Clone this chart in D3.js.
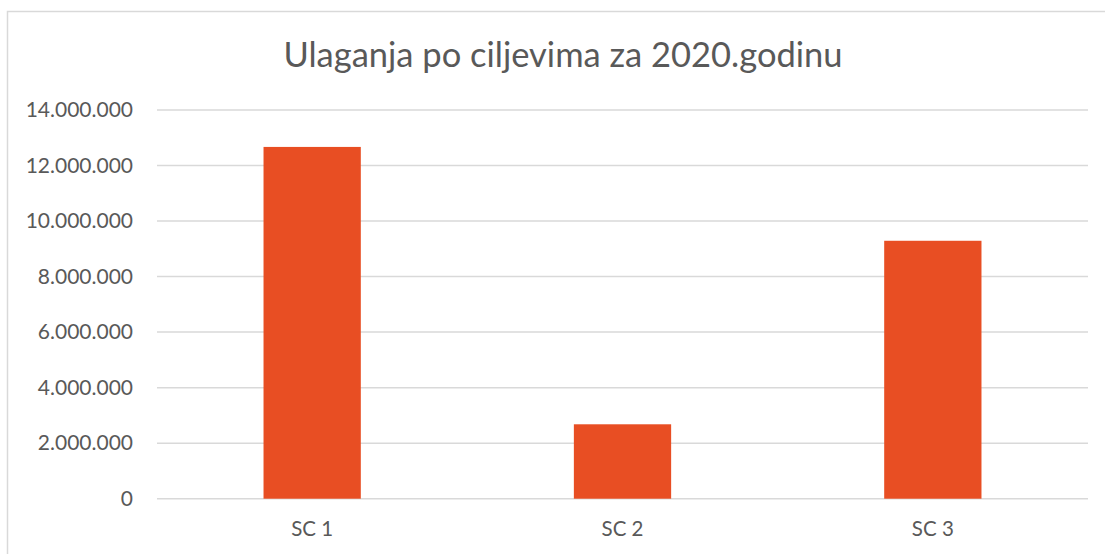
<!DOCTYPE html>
<html>
<head>
<meta charset="utf-8">
<script src="https://cdn.jsdelivr.net/npm/d3@7"></script>
<style>
  body { margin: 0; background: #fff; }
  text { font-family: Lato, "Open Sans", sans-serif; fill: #595959; }
</style>
</head>
<body>
<div id="chart"></div>
<script>
// data
const title = "Ulaganja po ciljevima za 2020.godinu";
const categories = ["SC 1", "SC 2", "SC 3"];
const values = [12670000, 2680000, 9290000];
const yTicks = [0, 2000000, 4000000, 6000000, 8000000, 10000000, 12000000, 14000000];

const width = 1105, height = 554;
const margin = {top: 110, right: 17, bottom: 55.3, left: 157};
const plotW = width - margin.left - margin.right;
const plotH = height - margin.top - margin.bottom;

const svg = d3.select("#chart").append("svg")
    .attr("width", width)
    .attr("height", height);

// chart border (only top and left visible inside the picture)
svg.append("rect")
    .attr("x", 7.5).attr("y", 11.5)
    .attr("width", width + 20).attr("height", height + 20)
    .attr("fill", "none")
    .attr("stroke", "#d9d9d9")
    .attr("stroke-width", 1.5);

svg.append("text")
    .attr("x", 563)
    .attr("y", 67)
    .attr("text-anchor", "middle")
    .style("font-size", "34.5px")
    .text(title);

const g = svg.append("g")
    .attr("transform", `translate(${margin.left},${margin.top})`);

const x = d3.scaleBand().domain(categories).range([0, plotW]).padding(0);
const y = d3.scaleLinear().domain([0, 14000000]).range([plotH, 0]);

// 1.000.000 style numbers
const fmt = d3.formatLocale({decimal: ",", thousands: ".", grouping: [3], currency: ["", ""]}).format(",");

// gridlines
g.selectAll(".grid")
    .data(yTicks)
    .join("line")
    .attr("class", "grid")
    .attr("x1", 0).attr("x2", plotW)
    .attr("y1", d => y(d)).attr("y2", d => y(d))
    .attr("stroke", "#d9d9d9")
    .attr("stroke-width", 1.5);

// y axis labels
const yAxis = g.append("g")
    .call(d3.axisLeft(y).tickValues(yTicks).tickFormat(fmt).tickSize(0).tickPadding(24));
yAxis.select(".domain").remove();
yAxis.selectAll("text")
    .style("font-size", "21px")
    .style("font-family", "Lato, sans-serif")
    .attr("fill", "#595959");

// bars (gap width ~219%)
const barW = x.bandwidth() / 3.19;
g.selectAll(".bar")
    .data(values)
    .join("rect")
    .attr("class", "bar")
    .attr("x", (d, i) => x(categories[i]) + (x.bandwidth() - barW) / 2)
    .attr("y", d => y(d))
    .attr("width", barW)
    .attr("height", d => plotH - y(d))
    .attr("fill", "#e84e23");

// x axis labels
const xAxis = g.append("g")
    .attr("transform", `translate(0,${plotH})`)
    .call(d3.axisBottom(x).tickSize(0).tickPadding(23));
xAxis.select(".domain").remove();
xAxis.selectAll("text")
    .style("font-size", "20.5px")
    .style("font-family", "Lato, sans-serif")
    .attr("fill", "#595959");
</script>
</body>
</html>
